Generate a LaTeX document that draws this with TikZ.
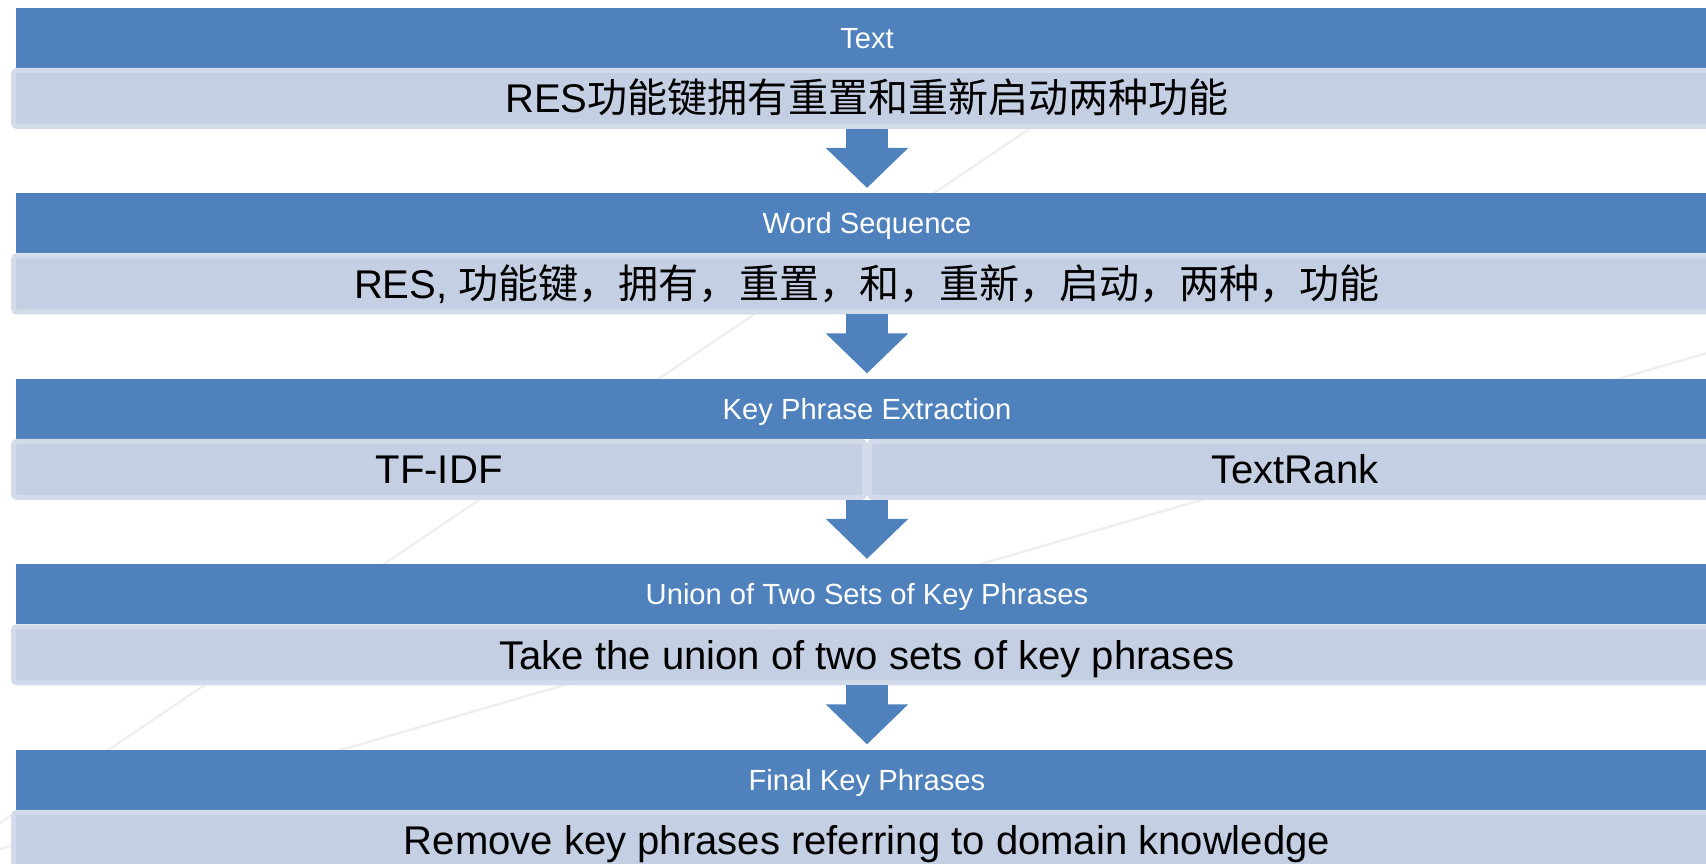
\documentclass[tikz,border=0pt]{standalone}
\usepackage{fontspec}
\setmainfont{Liberation Sans}
\newfontfamily\cjk{Noto Sans CJK SC}
\usetikzlibrary{positioning,arrows.meta}
\definecolor{headblue}{HTML}{4F81BD}
\definecolor{barfill}{HTML}{C4CFE3}
\definecolor{barrim}{HTML}{D3DBEA}
\definecolor{bgline}{HTML}{EFEFEF}
\tikzset{
  head/.style={rectangle, fill=headblue, text=white, inner sep=0pt, outer sep=0pt,
    minimum width=34.04cm, minimum height=1.2cm, text height=11.9pt, text depth=0pt,
    font=\fontsize{16.6}{20}\selectfont},
  bar/.style={rectangle, rounded corners=0.06cm, fill=barfill, draw=barrim, line width=0.1cm,
    inner sep=0pt, minimum width=34.14cm, minimum height=1.12cm, text height=16.3pt, text depth=0pt,
    font=\fontsize{22.8}{27}\selectfont},
  halfbar/.style={bar, minimum width=17.02cm},
  flow/.style={headblue, line width=0.84cm, -{Triangle[length=0.8cm,width=1.6cm]}, shorten >=0.11cm}
}
\begin{document}
\begin{tikzpicture}[x=0.02cm, y=-0.02cm]
  \useasboundingbox (0,0) rectangle (1706,864);
  \clip (0,0) rectangle (1706,864);

  % faint lines of the background
  \draw[bgline, line width=0.05cm] (0,823) -- (1161,40);
  \draw[bgline, line width=0.05cm] (0,849) -- (1800,326);

  \node[head] (input) at (867,38) {Text};
  \node[bar, below=0pt of input] (inbar) {RES{\cjk 功能键拥有重置和重新启动两种功能}};

  \node[head, below=1.29cm of inbar] (words) {Word Sequence};
  \node[bar, below=0pt of words] (wordbar) {RES, {\cjk 功能键，拥有，重置，和，重新，启动，两种，功能}};

  \node[head, below=1.29cm of wordbar] (extract) {Key Phrase Extraction};
  \node[halfbar, anchor=north east] (tfidf) at (extract.south) {TF-IDF};
  \node[halfbar, anchor=north west] (textrank) at (extract.south) {TextRank};

  \node[head, below=1.29cm of tfidf.south east] (union) {Union of Two Sets of Key Phrases};
  \node[bar, below=0pt of union] (unionbar) {Take the union of two sets of key phrases};

  \node[head, below=1.29cm of unionbar] (final) {Final Key Phrases};
  \node[bar, below=0pt of final] (finalbar) {Remove key phrases referring to domain knowledge};

  \draw[flow] (inbar.south) -- (words.north);
  \draw[flow] (wordbar.south) -- (extract.north);
  \draw[flow] (tfidf.south east) -- (union.north);
  \draw[flow] (unionbar.south) -- (final.north);
\end{tikzpicture}
\end{document}
